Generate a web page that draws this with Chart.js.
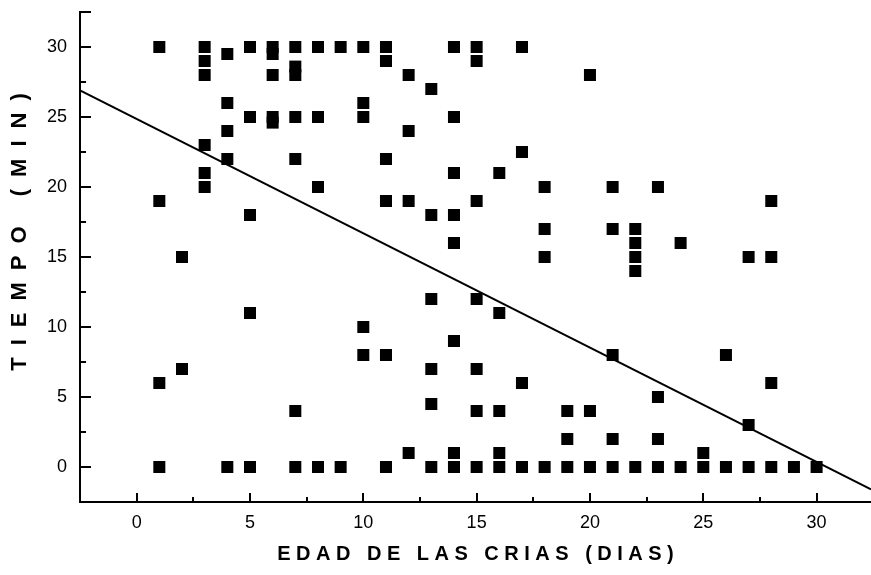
<!DOCTYPE html>
<html>
<head>
<meta charset="utf-8">
<script src="https://cdn.jsdelivr.net/npm/chart.js@4/dist/chart.umd.min.js"></script>
<style>
  html, body { margin: 0; padding: 0; background: #fff; }
  #wrap { width: 871px; height: 575px; }
</style>
</head>
<body>
<div id="wrap"><canvas id="grafica"></canvas></div>
<script>
// Edad de las crias (dias) contra tiempo (min)
const edad = [
    1, 1, 1, 1,
    2, 2,
    3, 3, 3, 3, 3, 3,
    4, 4, 4, 4, 4,
    5, 5, 5, 5, 5,
    6, 6, 6, 6, 6,
    7, 7, 7, 7, 7, 7, 7,
    8, 8, 8, 8,
    9, 9,
    10, 10, 10, 10, 10,
    11, 11, 11, 11, 11, 11,
    12, 12, 12, 12,
    13, 13, 13, 13, 13, 13,
    14, 14, 14, 14, 14, 14, 14, 14,
    15, 15, 15, 15, 15, 15, 15,
    16, 16, 16, 16, 16,
    17, 17, 17, 17,
    18, 18, 18, 18,
    19, 19, 19,
    20, 20, 20,
    21, 21, 21, 21, 21,
    22, 22, 22, 22, 22,
    23, 23, 23, 23,
    24, 24,
    25, 25,
    26, 26,
    27, 27, 27,
    28, 28, 28, 28,
    29,
    30
];
const tiempo = [
    30, 19, 6, 0,
    15, 7,
    30, 29, 28, 23, 21, 20,
    29.5, 26, 24, 22, 0,
    30, 25, 18, 11, 0,
    30, 29.5, 28, 25, 24.6,
    30, 28.6, 28, 25, 22, 4, 0,
    30, 25, 20, 0,
    30, 0,
    30, 26, 25, 10, 8,
    30, 29, 22, 19, 8, 0,
    28, 24, 19, 1,
    27, 18, 12, 7, 4.5, 0,
    30, 25, 21, 18, 16, 9, 1, 0,
    30, 29, 19, 12, 7, 4, 0,
    21, 11, 4, 1, 0,
    30, 22.5, 6, 0,
    20, 17, 15, 0,
    4, 2, 0,
    28, 4, 0,
    20, 17, 8, 2, 0,
    17, 16, 15, 14, 0,
    20, 5, 2, 0,
    16, 0,
    1, 0,
    8, 0,
    15, 3, 0,
    19, 15, 6, 0,
    0,
    0
];

// recta de regresion (extremos)
const rectaX = [-2.5, 32.4];
const rectaY = [26.9, -1.6];

const xTicks = [0, 5, 10, 15, 20, 25, 30];
const yTicks = [0, 5, 10, 15, 20, 25, 30];

const puntos = edad.map((e, i) => ({ x: e, y: tiempo[i] }));
const recta = rectaX.map((e, i) => ({ x: e, y: rectaY[i] }));

const fuenteTicks = { family: "'Liberation Sans', Arial, sans-serif", size: 18 };
const fuenteTituloX = { family: "'Liberation Sans', Arial, sans-serif", size: 20, weight: 'bold' };
const fuenteTituloY = { family: "'Liberation Sans', Arial, sans-serif", size: 22, weight: 'bold' };

// marcas de los ejes hacia adentro
const marcasAdentro = {
    id: 'marcasAdentro',
    afterDraw(chart) {
        const { ctx, chartArea: a, scales: { x, y } } = chart;
        ctx.save();
        ctx.strokeStyle = '#000';
        ctx.lineWidth = 2;
        ctx.beginPath();
        for (let v = 0; v <= x.max; v += 2.5) {
            const px = Math.round(x.getPixelForValue(v));
            const largo = v % 5 === 0 ? 9 : 5;
            ctx.moveTo(px, a.bottom);
            ctx.lineTo(px, a.bottom - largo);
        }
        for (let v = 0; v <= y.max + 0.01; v += 2.5) {
            const py = Math.round(y.getPixelForValue(v));
            const largo = (v % 5 === 0 || v >= y.max) ? 11 : 6;
            ctx.moveTo(a.left, py);
            ctx.lineTo(a.left + largo, py);
        }
        ctx.stroke();
        ctx.restore();
    }
};

// titulos de los ejes con letras espaciadas
const espacios = { x: 5.5, y: 12 };
const corrimiento = { x: 0, y: -25 };
const titulosEspaciados = {
    id: 'titulosEspaciados',
    beforeDraw(chart) {
        for (const id of ['x', 'y']) {
            const s = chart.scales[id];
            if (s._espaciado) continue;
            const original = s.drawTitle.bind(s);
            s.drawTitle = function () {
                const ctx = this.ctx;
                const sp = espacios[id];
                ctx.save();
                ctx.letterSpacing = sp + 'px';
                if (id === 'x') ctx.translate(sp / 2 + corrimiento.x, 0);
                else ctx.translate(0, -sp / 2 + corrimiento.y);
                original();
                ctx.restore();
            };
            s._espaciado = true;
        }
    }
};

const ctx = document.getElementById('grafica').getContext('2d');
new Chart(ctx, {
    type: 'scatter',
    data: {
        datasets: [
            {
                label: 'Observaciones',
                data: puntos,
                pointStyle: 'rect',
                pointRadius: 8.5,
                pointHoverRadius: 8.5,
                backgroundColor: '#000',
                borderColor: '#000',
                borderWidth: 0
            },
            {
                label: 'Regresion',
                data: recta,
                showLine: true,
                borderColor: '#000',
                borderWidth: 2,
                pointRadius: 0,
                fill: false
            }
        ]
    },
    options: {
        responsive: true,
        maintainAspectRatio: false,
        animation: false,
        layout: { autoPadding: false, padding: { top: 12, right: 0, bottom: 0, left: 0 } },
        plugins: {
            legend: { display: false },
            tooltip: { enabled: false }
        },
        scales: {
            x: {
                type: 'linear',
                min: -2.5,
                max: 32.4,
                afterBuildTicks: s => { s.ticks = xTicks.map(v => ({ value: v })); },
                afterFit: s => { s.height = 73; },
                grid: { display: false, drawTicks: false },
                border: { display: true, color: '#000', width: 2 },
                ticks: { color: '#000', font: fuenteTicks, padding: 10, maxRotation: 0, autoSkip: false },
                title: {
                    display: true,
                    text: 'EDAD DE LAS CRIAS (DIAS)',
                    color: '#000',
                    font: fuenteTituloX,
                    padding: { top: 0, bottom: 9 }
                }
            },
            y: {
                type: 'linear',
                min: -2.5,
                max: 32.5,
                afterBuildTicks: s => { s.ticks = yTicks.map(v => ({ value: v })); },
                afterFit: s => { s.width = 80; s.paddingTop = 0; s.paddingBottom = 0; },
                grid: { display: false, drawTicks: false },
                border: { display: true, color: '#000', width: 2 },
                ticks: { color: '#000', font: fuenteTicks, padding: 13, autoSkip: false },
                title: {
                    display: true,
                    text: 'TIEMPO (MIN)',
                    color: '#000',
                    font: fuenteTituloY,
                    padding: { top: 7, bottom: 0 }
                }
            }
        }
    },
    plugins: [marcasAdentro, titulosEspaciados]
});
</script>
</body>
</html>
